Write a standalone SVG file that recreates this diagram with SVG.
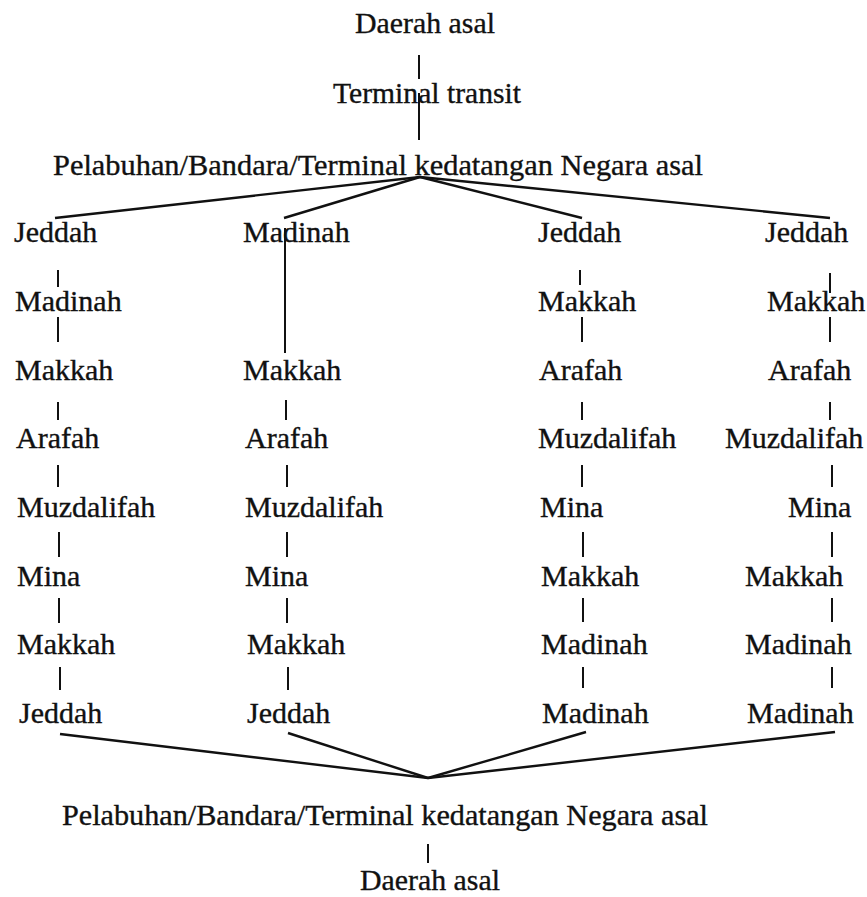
<svg xmlns="http://www.w3.org/2000/svg" width="867" height="897" viewBox="0 0 867 897">
<style>
text{font-family:"Liberation Serif","Times New Roman",serif;font-size:30px;fill:#111;stroke:#111;stroke-width:0.35}
.c line{stroke:#111;stroke-width:2;stroke-linecap:butt}
.c .f{stroke-width:2.4}
</style>
<rect width="867" height="897" fill="#fff"/>
<g class="c" id="connectors">
<line x1="419" y1="55" x2="419" y2="79"/>
<line x1="419" y1="93" x2="419" y2="140"/>
<line class="f" x1="420" y1="177" x2="55" y2="218"/>
<line class="f" x1="420" y1="177" x2="284" y2="218"/>
<line class="f" x1="420" y1="177" x2="582" y2="218"/>
<line class="f" x1="420" y1="177" x2="830" y2="218"/>
<line x1="58" y1="270" x2="58" y2="287"/>
<line x1="58" y1="317" x2="58" y2="342"/>
<line x1="58" y1="402" x2="58" y2="420"/>
<line x1="58" y1="465" x2="58" y2="487"/>
<line x1="59" y1="532" x2="59" y2="557"/>
<line x1="59" y1="598" x2="59" y2="623"/>
<line x1="60" y1="667" x2="60" y2="690"/>
<line x1="285" y1="228" x2="285" y2="353"/>
<line x1="286" y1="400" x2="286" y2="420"/>
<line x1="287" y1="465" x2="287" y2="487"/>
<line x1="287" y1="532" x2="287" y2="557"/>
<line x1="287" y1="598" x2="287" y2="623"/>
<line x1="288" y1="667" x2="288" y2="690"/>
<line x1="580" y1="270" x2="580" y2="285"/>
<line x1="582" y1="317" x2="582" y2="342"/>
<line x1="582" y1="402" x2="582" y2="420"/>
<line x1="582" y1="465" x2="582" y2="487"/>
<line x1="583" y1="532" x2="583" y2="557"/>
<line x1="583" y1="598" x2="583" y2="622"/>
<line x1="583" y1="667" x2="583" y2="688"/>
<line x1="830" y1="273" x2="830" y2="293"/>
<line x1="830" y1="317" x2="830" y2="342"/>
<line x1="830" y1="402" x2="830" y2="420"/>
<line x1="832" y1="465" x2="832" y2="487"/>
<line x1="832" y1="532" x2="832" y2="557"/>
<line x1="832" y1="598" x2="832" y2="622"/>
<line x1="832" y1="667" x2="832" y2="688"/>
<line class="f" x1="60" y1="734" x2="428" y2="778"/>
<line class="f" x1="288" y1="733" x2="428" y2="778"/>
<line class="f" x1="586" y1="732" x2="428" y2="778"/>
<line class="f" x1="835" y1="732" x2="428" y2="778"/>
<line x1="428" y1="844" x2="428" y2="863"/>
</g>
<g id="daerah-asal-top"><text x="355" y="33" textLength="140" lengthAdjust="spacingAndGlyphs">Daerah asal</text></g>
<g id="terminal-transit"><text x="333" y="103" textLength="188" lengthAdjust="spacingAndGlyphs">Terminal transit</text></g>
<g id="pelabuhan-top"><text x="53" y="175" textLength="650" lengthAdjust="spacingAndGlyphs">Pelabuhan/Bandara/Terminal kedatangan Negara asal</text></g>
<g id="col1">
<g id="c1r1"><text x="14" y="242">Jeddah</text></g>
<g id="c1r2"><text x="15" y="311">Madinah</text></g>
<g id="c1r3"><text x="15" y="380">Makkah</text></g>
<g id="c1r4"><text x="16" y="448">Arafah</text></g>
<g id="c1r5"><text x="17" y="517">Muzdalifah</text></g>
<g id="c1r6"><text x="17" y="586">Mina</text></g>
<g id="c1r7"><text x="17" y="654">Makkah</text></g>
<g id="c1r8"><text x="19" y="723">Jeddah</text></g>
</g>
<g id="col2">
<g id="c2r1"><text x="243" y="242">Madinah</text></g>
<g id="c2r3"><text x="243" y="380">Makkah</text></g>
<g id="c2r4"><text x="245" y="448">Arafah</text></g>
<g id="c2r5"><text x="245" y="517">Muzdalifah</text></g>
<g id="c2r6"><text x="245" y="586">Mina</text></g>
<g id="c2r7"><text x="247" y="654">Makkah</text></g>
<g id="c2r8"><text x="247" y="723">Jeddah</text></g>
</g>
<g id="col3">
<g id="c3r1"><text x="538" y="242">Jeddah</text></g>
<g id="c3r2"><text x="538" y="311">Makkah</text></g>
<g id="c3r3"><text x="539" y="380">Arafah</text></g>
<g id="c3r4"><text x="538" y="448">Muzdalifah</text></g>
<g id="c3r5"><text x="540" y="517">Mina</text></g>
<g id="c3r6"><text x="541" y="586">Makkah</text></g>
<g id="c3r7"><text x="541" y="654">Madinah</text></g>
<g id="c3r8"><text x="542" y="723">Madinah</text></g>
</g>
<g id="col4">
<g id="c4r1"><text x="765" y="242">Jeddah</text></g>
<g id="c4r2"><text x="767" y="311">Makkah</text></g>
<g id="c4r3"><text x="768" y="380">Arafah</text></g>
<g id="c4r4"><text x="725" y="448">Muzdalifah</text></g>
<g id="c4r5"><text x="788" y="517">Mina</text></g>
<g id="c4r6"><text x="745" y="586">Makkah</text></g>
<g id="c4r7"><text x="745" y="654">Madinah</text></g>
<g id="c4r8"><text x="747" y="723">Madinah</text></g>
</g>
<g id="pelabuhan-bottom"><text x="62" y="825" textLength="646" lengthAdjust="spacingAndGlyphs">Pelabuhan/Bandara/Terminal kedatangan Negara asal</text></g>
<g id="daerah-asal-bottom"><text x="360" y="890" textLength="140" lengthAdjust="spacingAndGlyphs">Daerah asal</text></g>
</svg>
